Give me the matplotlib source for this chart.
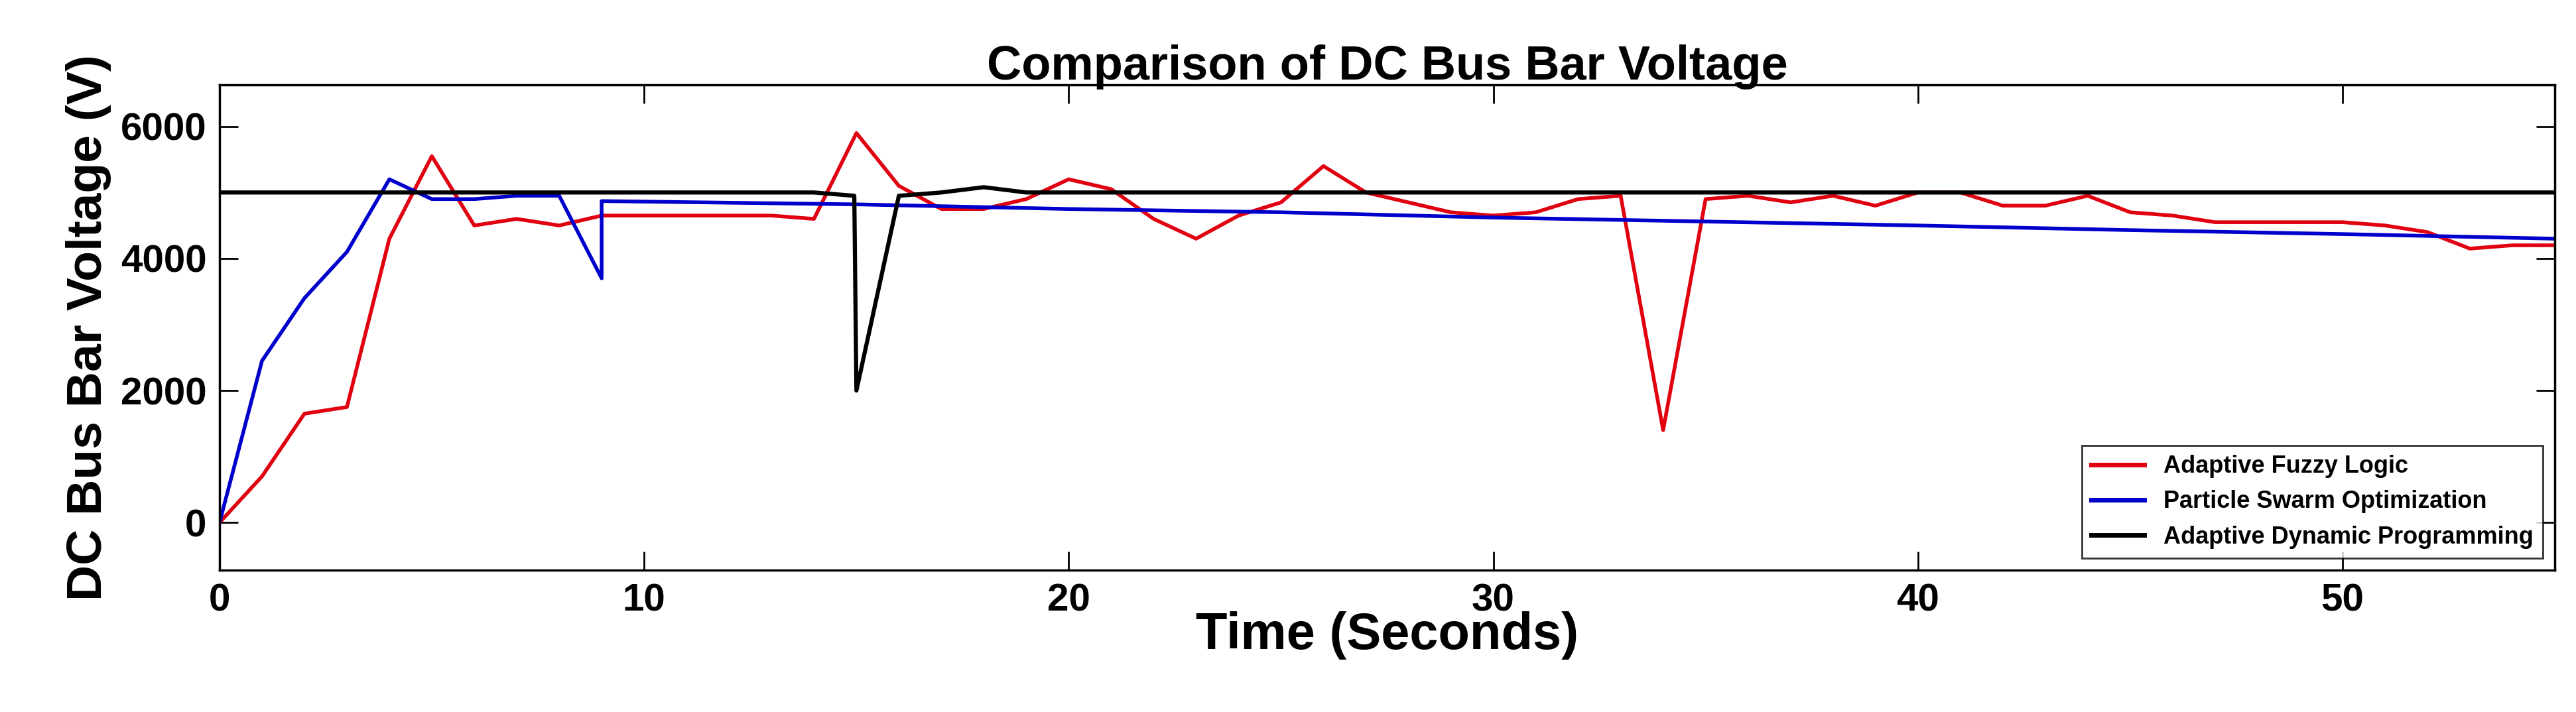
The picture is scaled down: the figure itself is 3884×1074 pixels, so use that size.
import matplotlib
matplotlib.use("Agg")
import matplotlib.pyplot as plt

# Adaptive Fuzzy Logic
afl_t = list(range(0, 56))
afl_v = [0, 700, 1650, 1750, 4300, 5550, 4500, 4600, 4500, 4650,
         4650, 4650, 4650, 4650, 4600, 5900, 5100, 4750, 4750, 4900,
         5200, 5050, 4600, 4300, 4650, 4850, 5400, 5000, 4850, 4700,
         4650, 4700, 4900, 4950, 1400, 4900, 4950, 4850, 4950, 4800,
         5000, 5000, 4800, 4800, 4950, 4700, 4650, 4550, 4550, 4550,
         4550, 4500, 4400, 4150, 4200, 4200]

# Particle Swarm Optimization
pso_t = [0, 1, 2, 3, 4, 5, 6, 7, 8, 9, 9, 15, 20, 25, 30, 35, 40, 45, 50, 55]
pso_v = [0, 2450, 3400, 4100, 5200, 4900, 4900, 4950, 4950, 3700,
         4870, 4820, 4750, 4700, 4620, 4560, 4500, 4430, 4370, 4300]

# Adaptive Dynamic Programming
adp_t = [0, 14, 14.95, 15, 16, 17, 18, 19, 20, 55]
adp_v = [5000, 5000, 4950, 2000, 4950, 5000, 5080, 5000, 5000, 5000]

plt.rcParams["font.family"] = ["Liberation Sans", "DejaVu Sans"]
plt.rcParams["font.weight"] = "bold"

fig = plt.figure(figsize=(38.84, 10.74), dpi=100)
ax = fig.add_axes([331 / 3884, 1 - 860 / 1074, (3852 - 331) / 3884, (860 - 128) / 1074])

ax.plot(afl_t, afl_v, color="#e0000f", lw=4, label="Adaptive Fuzzy Logic")
ax.plot(pso_t, pso_v, color="#0000cc", lw=4, label="Particle Swarm Optimization")
ax.plot(adp_t, adp_v, color="black", lw=4.5, label="Adaptive Dynamic Programming")

ax.set_xlim(0, 55)
ax.set_ylim(-720, 6630)
ax.set_xticks([0, 10, 20, 30, 40, 50])
ax.set_yticks([0, 2000, 4000, 6000])
ax.tick_params(direction="in", length=20, width=2, labelsize=42, top=True, right=True, pad=14)
for s in ax.spines.values():
    s.set_linewidth(2.5)

ax.set_title("Comparison of DC Bus Bar Voltage", fontsize=52, fontweight="bold", pad=6)
ax.set_xlabel("Time (Seconds)", fontsize=56, fontweight="bold", labelpad=-8)
ax.set_ylabel("DC Bus Bar Voltage (V)", fontsize=54, fontweight="bold", labelpad=10)

leg = ax.legend(loc="lower right", fontsize=26, frameon=True, fancybox=False,
                edgecolor="black", borderaxespad=0.5, handlelength=2.2)
leg.get_frame().set_linewidth(2)
for line in leg.get_lines():
    line.set_linewidth(5)

fig.savefig("out.png", dpi=100, facecolor="white")
